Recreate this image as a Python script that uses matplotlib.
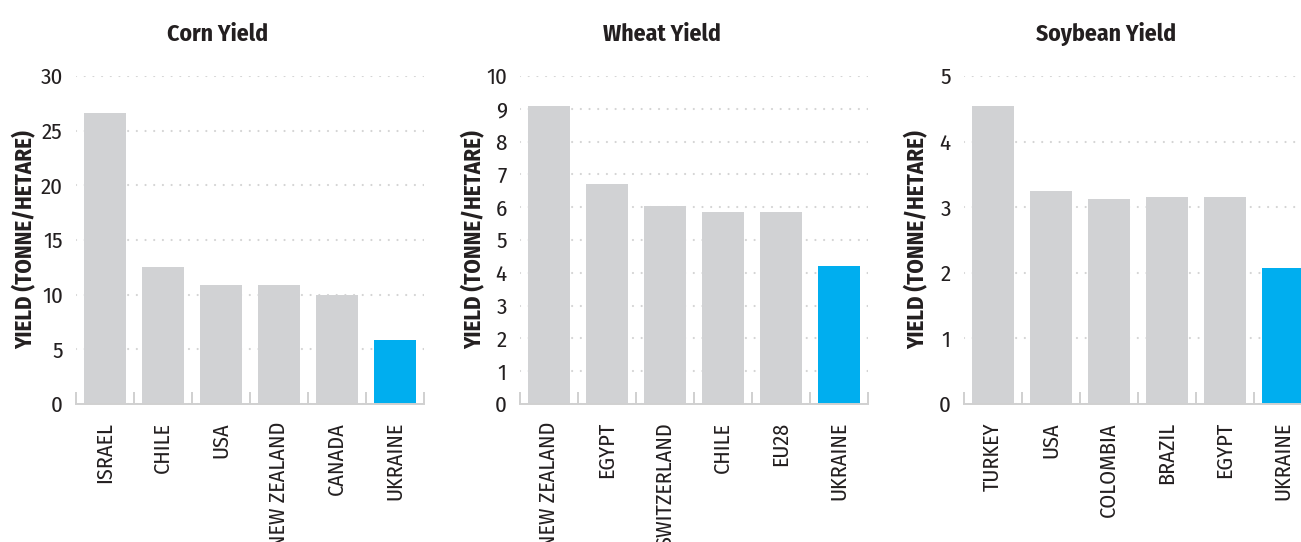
import matplotlib
matplotlib.use("Agg")
import matplotlib.pyplot as plt
from matplotlib.ticker import FixedLocator

plt.rcParams['font.family'] = ['Fira Sans Condensed', 'Barlow Condensed', 'DejaVu Sans']

corn_countries = ["ISRAEL", "CHILE", "USA", "NEW ZEALAND", "CANADA", "UKRAINE"]
corn_yield = [26.6, 12.5, 10.9, 10.9, 9.95, 5.85]

wheat_countries = ["NEW ZEALAND", "EGYPT", "SWITZERLAND", "CHILE", "EU28", "UKRAINE"]
wheat_yield = [9.1, 6.72, 6.03, 5.84, 5.84, 4.21]

soy_countries = ["TURKEY", "USA", "COLOMBIA", "BRAZIL", "EGYPT", "UKRAINE"]
soy_yield = [4.55, 3.25, 3.13, 3.16, 3.16, 2.08]

panels = [
    ("Corn Yield", corn_countries, corn_yield, 30, 5),
    ("Wheat Yield", wheat_countries, wheat_yield, 10, 1),
    ("Soybean Yield", soy_countries, soy_yield, 5, 1),
]

GREY = "#d1d2d4"
BLUE = "#00aeef"
TEXT = "#231f20"
LINE = "#d0d0d0"

W, H = 1301, 542
fig = plt.figure(figsize=(W / 100, H / 100), dpi=100)

# left edge of each plot area (px) and x of the y label
lefts = [76, 520, 964]
label_x = [-0.112, -0.098, -0.10]

for (title, names, vals, ymax, step), left, lx in zip(panels, lefts, label_x):
    ax = fig.add_axes([left / W, (H - 404) / H, 348 / W, 328 / H])
    colors = [BLUE if n == "UKRAINE" else GREY for n in names]
    x = range(len(names))
    ax.bar(x, vals, width=0.724, color=colors, zorder=3)
    ax.set_xlim(-0.5, len(names) - 0.5)
    ax.set_ylim(0, ymax)
    ax.set_yticks([i * step for i in range(int(ymax / step) + 1)])
    ax.yaxis.grid(True, color="#d4d4d4", linestyle=(0, (0.01, 3.9)), linewidth=1.6,
                  dash_capstyle="round", zorder=0)
    for s in ["top", "right", "left"]:
        ax.spines[s].set_visible(False)
    ax.spines["bottom"].set_color(LINE)
    ax.spines["bottom"].set_linewidth(1.4)
    ax.spines["bottom"].set_zorder(4)
    ax.set_xticks(list(x))
    ax.set_xticklabels(names, rotation=90, fontsize=16, color=TEXT)
    ax.xaxis.set_minor_locator(FixedLocator([i - 0.5 for i in range(len(names) + 1)]))
    ax.tick_params(axis="x", which="major", length=0, pad=13)
    ax.tick_params(axis="x", which="minor", direction="in", length=8.5, width=1.4, color=LINE)
    ax.tick_params(axis="y", length=0, pad=9.5, labelsize=16.5, labelcolor=TEXT)
    ax.set_ylabel("YIELD (TONNE/HETARE)", fontsize=16.5, fontweight="bold", color=TEXT)
    ax.yaxis.set_label_coords(lx, 0.5)
    ax.set_title(title, fontsize=17, fontweight="bold", color=TEXT, x=0.408, pad=25)

fig.savefig("out.png", dpi=100)
